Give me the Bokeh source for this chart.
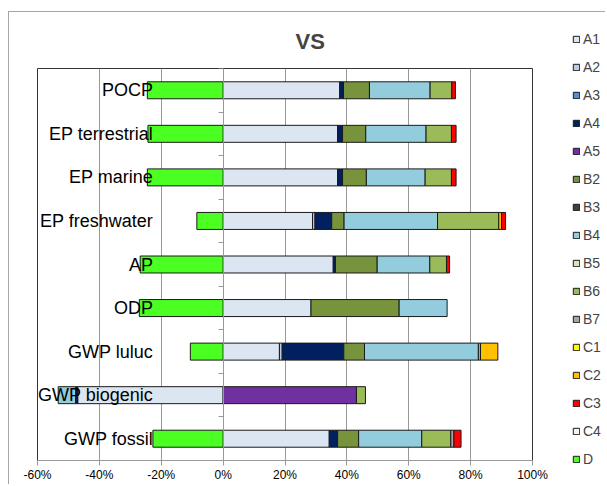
from bokeh.plotting import figure
from bokeh.layouts import row
from bokeh.models import (ColumnDataSource, Legend, LegendItem, FixedTicker,
                          PrintfTickFormatter)
from bokeh.embed import file_html
from bokeh.resources import INLINE
import numpy as np

# categories from bottom to top
categories = ["GWP fossil", "GWP biogenic", "GWP luluc", "ODP", "AP",
              "EP freshwater", "EP marine", "EP terrestrial", "POCP"]

series_names = ["A1", "A2", "A3", "A4", "A5", "B2", "B3", "B4", "B5", "B6",
                "B7", "C1", "C2", "C3", "C4", "D"]

# values in % (order of categories above)
A1 = [34.3, -47.0, 18.2, 28.4, 35.6, 28.9, 37.0, 37.0, 37.7]
A2 = [0, 0, 0.9, 0, 0, 0.8, 0, 0, 0]
A3 = [0, 0, 0, 0, 0, 0, 0, 0, 0]
A4 = [2.7, -0.7, 19.9, 0, 0.7, 5.4, 1.6, 1.6, 1.2]
A5 = [0, 43.1, 0, 0, 0, 0, 0, 0, 0]
B2 = [6.8, 0, 6.7, 28.5, 13.5, 4.0, 7.7, 7.5, 8.4]
B3 = [0, 0, 0, 0, 0, 0, 0, 0, 0]
B4 = [20.4, -5.6, 36.8, 15.5, 17.0, 30.2, 19.0, 19.5, 19.6]
B5 = [0, 0, 0, 0, 0, 0, 0, 0, 0]
B6 = [9.4, 2.9, 0.7, 0, 5.4, 19.8, 8.5, 8.2, 7.0]
B7 = [1.0, 0, 0, 0, 0, 0, 0, 0, 0]
C1 = [0, 0, 0, 0, 0, 0, 0, 0, 0]
C2 = [0, 0, 5.6, 0, 0, 0.9, 0, 0, 0]
C3 = [2.3, 0, 0, 0, 1.0, 1.3, 1.5, 1.5, 1.2]
C4 = [0, 0, 0, 0, 0, 0, 0, 0, 0]
D = [-22.7, 0, -10.6, -27.1, -26.8, -8.5, -24.5, -24.3, -24.5]

series_values = [A1, A2, A3, A4, A5, B2, B3, B4, B5, B6, B7, C1, C2, C3, C4, D]

colors = ["#DCE6F2", "#B9CDE5", "#558ED5", "#002060", "#7030A0", "#77933C",
          "#404040", "#93CDDD", "#D7E4BD", "#9BBB59", "#A6A6A6", "#FFFF00",
          "#FFC000", "#FF0000", "#F2F2F2", "#4CFF22"]

x_ticks = [-60, -40, -20, 0, 20, 40, 60, 80, 100]

FONT = "Liberation Sans"
EDGE = "#1a1a1a"

p = figure(width=543, height=472, x_range=(-60, 100), y_range=(-0.5, 8.5),
           output_backend="svg", toolbar_location=None,
           min_border_left=28, min_border_top=53, min_border_right=20,
           min_border_bottom=21)
p.frame_align = False

p.title.text = "VS"
p.title.text_font = FONT
p.title.text_font_size = "22px"
p.title.text_font_style = "bold"
p.title.align = "left"
p.title.offset = 258
p.title.standoff = 29

# legend-only figure
q = figure(width=53, height=472, x_range=(0, 1), y_range=(0, 1),
           output_backend="svg", toolbar_location=None,
           x_axis_type=None, y_axis_type=None, min_border=0,
           min_border_left=0, min_border_right=0, min_border_top=0,
           min_border_bottom=0)
q.frame_align = False
q.outline_line_color = None
q.grid.visible = False

ypos = np.arange(len(categories), dtype=float)
pos_cum = np.zeros(len(categories))
neg_cum = np.zeros(len(categories))
items = []
for name, vals, col in zip(series_names, series_values, colors):
    v = np.array(vals, dtype=float)
    left = np.where(v >= 0, pos_cum, neg_cum + v)
    right = np.where(v >= 0, pos_cum + v, neg_cum)
    pos_cum = pos_cum + np.where(v > 0, v, 0)
    neg_cum = neg_cum + np.where(v < 0, v, 0)
    left = np.where(v != 0, left, np.nan)
    right = np.where(v != 0, right, np.nan)
    src = ColumnDataSource(dict(y=ypos, left=left, right=right))
    p.hbar(y="y", left="left", right="right", height=0.39, source=src,
           fill_color=col, line_color=EDGE, line_width=1)
    # legend proxy (not drawn: no coordinates)
    proxy = q.hbar(y=[np.nan], left=[np.nan], right=[np.nan], height=0.39,
                   fill_color=col, line_color=EDGE, line_width=1)
    items.append(LegendItem(label=name, renderers=[proxy]))

legend = Legend(items=items, location=(20, 15), glyph_width=8, glyph_height=8,
                label_height=20, spacing=8, padding=0, margin=0,
                border_line_color=None, background_fill_alpha=0,
                label_text_font=FONT, label_text_font_size="14px",
                label_standoff=3)
q.add_layout(legend)

# x axis
xa = p.xaxis[0]
xa.ticker = FixedTicker(ticks=x_ticks)
xa.formatter = PrintfTickFormatter(format="%d%%")
xa.axis_line_color = "#999999"
xa.major_tick_line_color = "#999999"
xa.major_tick_out = 5
xa.major_tick_in = 0
xa.minor_tick_line_color = None
xa.major_label_standoff = 2
xa.major_label_text_font = FONT
xa.major_label_text_font_size = "12px"
xa.major_label_text_color = "#000000"

# y axis at 0
ya = p.yaxis[0]
ya.fixed_location = 0
ya.ticker = FixedTicker(ticks=list(range(len(categories))),
                        minor_ticks=[i - 0.5 for i in range(len(categories) + 1)])
ya.major_label_overrides = {i: c for i, c in enumerate(categories)}
ya.major_tick_out = 0
ya.major_tick_in = 0
ya.minor_tick_out = 5
ya.minor_tick_in = 0
ya.minor_tick_line_color = "#999999"
ya.axis_line_color = "#999999"
ya.major_label_standoff = 65
ya.major_label_text_font = FONT
ya.major_label_text_font_size = "18px"
ya.major_label_text_color = "#000000"

p.xgrid.ticker = FixedTicker(ticks=x_ticks)
p.xgrid.grid_line_color = "#999999"
p.ygrid.grid_line_color = None
p.outline_line_color = "#333333"
p.background_fill_color = "white"
p.border_fill_color = "white"

layout = row(p, q)
layout.margin = (11, 0, 0, 8)
layout.styles = {"border-top": "1px solid #a6a6a6",
                 "border-left": "1px solid #a6a6a6"}

open("out.html", "w").write(file_html(layout, INLINE))
